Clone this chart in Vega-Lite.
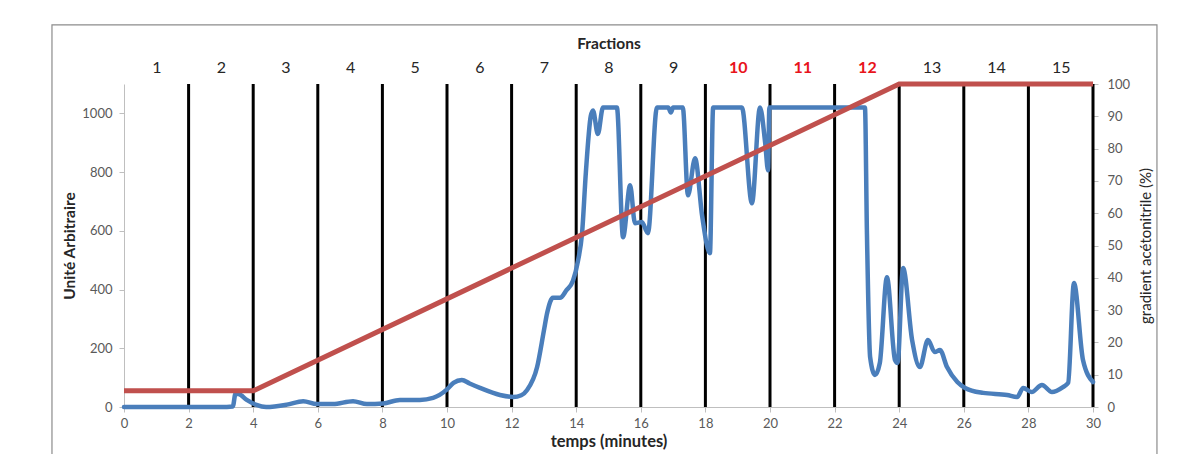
{
  "$schema": "https://vega.github.io/schema/vega-lite/v6.json",
  "autosize": {"type": "none"},
  "width": 969,
  "height": 323,
  "padding": {"left": 124, "top": 84, "right": 110, "bottom": 47},
  "background": "white",
  "config": {
    "view": {"stroke": null},
    "font": "Lato",
    "axis": {"labelFont": "Lato", "titleFont": "Lato", "grid": false, "labelColor": "#595959", "titleColor": "#262626", "domainColor": "#BFBFBF", "tickColor": "#BFBFBF"}
  },
  "datasets": {
    "frame": [{"x0": -2.23, "x1": 31.98, "y0": -20, "y1": 118.3}],
    "boundaries": [
      {"t": 2}, {"t": 4}, {"t": 6}, {"t": 8}, {"t": 10}, {"t": 12}, {"t": 14}, {"t": 16},
      {"t": 18}, {"t": 20}, {"t": 22}, {"t": 24}, {"t": 26}, {"t": 28}, {"t": 30}
    ],
    "signal": [
      {"t": 0, "v": 0}, {"t": 1, "v": 0}, {"t": 2, "v": 0}, {"t": 3, "v": 0}, {"t": 3.37, "v": 2},
      {"t": 3.45, "v": 45}, {"t": 3.55, "v": 44}, {"t": 3.8, "v": 24}, {"t": 4.1, "v": 7}, {"t": 4.4, "v": 0},
      {"t": 5.04, "v": 8}, {"t": 5.55, "v": 20}, {"t": 5.97, "v": 10}, {"t": 6.47, "v": 10}, {"t": 7.09, "v": 20},
      {"t": 7.52, "v": 10}, {"t": 8.02, "v": 12}, {"t": 8.54, "v": 24}, {"t": 9.16, "v": 24}, {"t": 9.57, "v": 31},
      {"t": 10.0, "v": 60}, {"t": 10.2, "v": 82}, {"t": 10.46, "v": 92}, {"t": 10.7, "v": 80}, {"t": 11.02, "v": 65},
      {"t": 11.64, "v": 41}, {"t": 12.05, "v": 34}, {"t": 12.3, "v": 40}, {"t": 12.48, "v": 58}, {"t": 12.79, "v": 136},
      {"t": 13.0, "v": 260}, {"t": 13.1, "v": 320}, {"t": 13.28, "v": 372}, {"t": 13.5, "v": 372}, {"t": 13.7, "v": 398},
      {"t": 13.9, "v": 430}, {"t": 14.06, "v": 500}, {"t": 14.18, "v": 590}, {"t": 14.3, "v": 800}, {"t": 14.45, "v": 990},
      {"t": 14.52, "v": 1010}, {"t": 14.67, "v": 930}, {"t": 14.83, "v": 1020}, {"t": 15.26, "v": 1020}, {"t": 15.45, "v": 578},
      {"t": 15.67, "v": 755}, {"t": 15.82, "v": 626}, {"t": 16.03, "v": 630}, {"t": 16.22, "v": 592}, {"t": 16.5, "v": 1020},
      {"t": 16.85, "v": 1020}, {"t": 16.93, "v": 1003}, {"t": 17.0, "v": 1020}, {"t": 17.3, "v": 1020}, {"t": 17.46, "v": 721},
      {"t": 17.68, "v": 847}, {"t": 17.9, "v": 650}, {"t": 18.14, "v": 524}, {"t": 18.24, "v": 1020}, {"t": 19.13, "v": 1020},
      {"t": 19.44, "v": 694}, {"t": 19.69, "v": 1020}, {"t": 19.85, "v": 900}, {"t": 19.94, "v": 806}, {"t": 19.98, "v": 1020},
      {"t": 22.94, "v": 1020}, {"t": 23.0, "v": 600}, {"t": 23.1, "v": 170}, {"t": 23.25, "v": 109}, {"t": 23.4, "v": 150},
      {"t": 23.62, "v": 442}, {"t": 23.87, "v": 160}, {"t": 23.95, "v": 150}, {"t": 24.12, "v": 473}, {"t": 24.4, "v": 228},
      {"t": 24.64, "v": 136}, {"t": 24.89, "v": 228}, {"t": 25.1, "v": 187}, {"t": 25.26, "v": 194}, {"t": 25.48, "v": 136},
      {"t": 25.8, "v": 85}, {"t": 26.04, "v": 65}, {"t": 26.6, "v": 48}, {"t": 27.34, "v": 41}, {"t": 27.65, "v": 34},
      {"t": 27.84, "v": 65}, {"t": 28.1, "v": 51}, {"t": 28.42, "v": 75}, {"t": 28.73, "v": 51}, {"t": 29.07, "v": 68},
      {"t": 29.23, "v": 82}, {"t": 29.41, "v": 422}, {"t": 29.69, "v": 160}, {"t": 30.0, "v": 85}
    ],
    "gradient": [
      {"t": 0, "g": 5}, {"t": 4, "g": 5}, {"t": 24, "g": 100}, {"t": 30, "g": 100}
    ]
  },
  "layer": [
    {
      "data": {"name": "frame"},
      "mark": {"type": "rect", "filled": false, "stroke": "#8C8C8C", "strokeWidth": 1.2, "clip": false},
      "encoding": {
        "x": {"field": "x0", "type": "quantitative", "axis": null},
        "x2": {"field": "x1"},
        "y": {"field": "y1", "type": "quantitative", "scale": {"domain": [0, 100], "nice": false}, "axis": null},
        "y2": {"field": "y0"}
      }
    },
    {
      "data": {"name": "boundaries"},
      "mark": {"type": "rule", "color": "black", "strokeWidth": 3},
      "encoding": {
        "x": {
          "field": "t", "type": "quantitative",
          "scale": {"domain": [0, 30], "nice": false, "zero": false},
          "axis": {
            "orient": "top", "values": [1, 3, 5, 7, 9, 11, 13, 15, 17, 19, 21, 23, 25, 27, 29],
            "labelExpr": "(datum.value + 1) / 2",
            "domain": false, "ticks": false, "labelPadding": 9, "labelFontSize": 16,
            "labelColor": {"condition": {"test": "datum.value >= 19 && datum.value <= 23", "value": "#E8141B"}, "value": "#262626"},
            "labelFontWeight": {"condition": {"test": "datum.value >= 19 && datum.value <= 23", "value": "bold"}, "value": "normal"},
            "title": "Fractions", "titleFontSize": 15.5, "titleFontWeight": "bold", "titlePadding": 8
          }
        }
      }
    },
    {
      "data": {"name": "signal"},
      "mark": {"type": "line", "color": "#4A7EBB", "strokeWidth": 4.5, "interpolate": "monotone", "strokeCap": "round", "strokeJoin": "round"},
      "encoding": {
        "x": {
          "field": "t", "type": "quantitative",
          "axis": {
            "orient": "bottom", "values": [0, 2, 4, 6, 8, 10, 12, 14, 16, 18, 20, 22, 24, 26, 28, 30],
            "tickSize": 5, "labelPadding": 5, "labelFontSize": 13, "labelFlush": false,
            "title": "temps (minutes)", "titleFontSize": 16.5, "titleFontWeight": "bold", "titlePadding": 3
          }
        },
        "y": {
          "field": "v", "type": "quantitative",
          "scale": {"domain": [0, 1100], "nice": false},
          "axis": {
            "orient": "left", "values": [0, 200, 400, 600, 800, 1000], "format": "d",
            "tickSize": 5, "labelPadding": 7, "labelFontSize": 13,
            "title": "Unité Arbitraire", "titleFontSize": 15.5, "titleFontWeight": "bold", "titlePadding": 4
          }
        }
      }
    },
    {
      "data": {"name": "gradient"},
      "mark": {"type": "line", "color": "#C0504D", "strokeWidth": 5},
      "encoding": {
        "x": {"field": "t", "type": "quantitative", "axis": null},
        "y": {
          "field": "g", "type": "quantitative",
          "scale": {"domain": [0, 100], "nice": false},
          "axis": {
            "orient": "right", "values": [0, 10, 20, 30, 40, 50, 60, 70, 80, 90, 100],
            "tickSize": 5, "labelPadding": 9, "labelFontSize": 13, "domain": false,
            "title": "gradient acétonitrile (%)", "titleAngle": 270, "titleFontSize": 15, "titleFontWeight": "normal", "titlePadding": 24
          }
        }
      }
    }
  ],
  "resolve": {"scale": {"y": "independent"}}
}
